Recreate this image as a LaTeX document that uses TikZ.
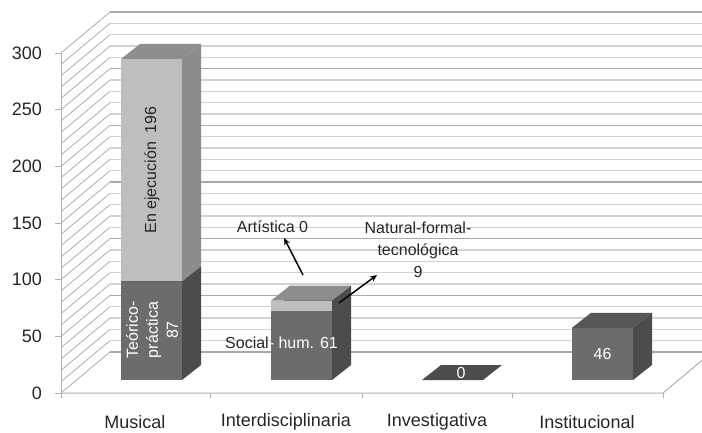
\documentclass[tikz,border=0pt]{standalone}
\usepackage{fontspec}
\setmainfont{Liberation Sans}
\usetikzlibrary{arrows.meta}

\definecolor{gridminor}{HTML}{D2D2D2}
\definecolor{gridmajor}{HTML}{A8A8A8}
\definecolor{wallline}{HTML}{B4B4B4}
\definecolor{axisline}{HTML}{B0B0B0}
\definecolor{darkfront}{HTML}{6C6C6C}
\definecolor{darkside}{HTML}{4C4C4C}
\definecolor{darktop}{HTML}{575757}
\definecolor{lightfront}{HTML}{BEBEBE}
\definecolor{lightside}{HTML}{8C8C8C}
\definecolor{lighttop}{HTML}{8E8E8E}
\definecolor{labeltext}{HTML}{262626}

% one block of a 3-D column: left x, bottom y, top y, front, side, top colours
\newcommand\barblock[6]{%
  \fill[#4] (#1,#2) -- (#1+61,#2) -- (#1+61,#3) -- (#1,#3) -- cycle;
  \fill[#5] (#1+61,#2) -- (#1+80,#2-15) -- (#1+80,#3-15) -- (#1+61,#3) -- cycle;
  \fill[#6] (#1,#3) -- (#1+61,#3) -- (#1+80,#3-15) -- (#1+19,#3-15) -- cycle;
}

\begin{document}
\begin{tikzpicture}[x=1pt,y=-1pt,
  minorline/.style={draw=gridminor, line width=1.1pt},
  majorline/.style={draw=gridmajor, line width=1.2pt},
  sideline/.style={draw=wallline, line width=0.9pt},
  axis/.style={draw=axisline, line width=1pt},
  ticklabel/.style={font=\fontsize{18}{20}\selectfont, text=labeltext},
  catlabel/.style={font=\fontsize{18}{20}\selectfont, text=labeltext},
  datalabel/.style={font=\fontsize{16}{20}\selectfont, text=labeltext, inner sep=0pt},
  pointer/.style={-{Stealth[length=7pt,width=6pt]}, line width=1.5pt, draw=black}
]
\useasboundingbox (0,0) rectangle (702,433);
\fill[white] (0,0) rectangle (702,433);
\clip (0,0) rectangle (702,433);

% back wall: minor then major gridlines
\foreach \v [evaluate=\v as \yb using 352-\v*1.1333] in {0,10,...,300}
  \draw[minorline] (110,\yb) -- (702,\yb);
\foreach \v [evaluate=\v as \yb using 352-\v*1.1333] in {0,50,...,300}
  \draw[majorline] (110,\yb) -- (702,\yb);

% side wall diagonals
\foreach \v [evaluate=\v as \yf using 393-\v*1.1333,
             evaluate=\v as \yb using 352-\v*1.1333] in {0,10,...,300}
  \draw[sideline] (61,\yf) -- (110,\yb);

% axes, floor edges and ticks
\draw[axis] (61,53) -- (61,398);
\draw[axis] (61,393) -- (663,393) -- (702,360.4);
\foreach \v [evaluate=\v as \yf using 393-\v*1.1333] in {0,50,...,300}
  \draw[axis] (55,\yf) -- (61,\yf);
\foreach \x in {210,362,512,663}
  \draw[axis] (\x,393) -- (\x,398);

% y-axis labels
\foreach \v [evaluate=\v as \yf using 393-\v*1.1333] in {0,50,...,300}
  \node[ticklabel, anchor=east, inner sep=0pt] (ylab\v) at (42,\yf) {\v};

% columns
\barblock{121}{380}{281.3}{darkfront}{darkside}{darktop}
\barblock{121}{281.3}{59}{lightfront}{lightside}{lighttop}
\barblock{271}{380}{310.8}{darkfront}{darkside}{darktop}
\barblock{271}{310.8}{300.6}{lightfront}{darkside}{lighttop}
\fill[darkside] (422,380) -- (483,380) -- (502,365) -- (441,365) -- cycle;
\barblock{572}{380}{327.8}{darkfront}{darkside}{darktop}

% data labels
\node[datalabel, rotate=90] (ejec) at (152,170) {En ejecución\ \ 196};
\node[datalabel, rotate=90, text=white, align=center,
      font=\fontsize{16}{20}\selectfont] (teor) at (152,330) {Teórico-\\práctica\\87};
\node[datalabel, anchor=west] (social) at (225,343) {Social\textcolor{white}{ - hum. 61}};
\node[datalabel] (artis) at (272.5,227) {Artística 0};
\node[datalabel, align=center, font=\fontsize{16}{22}\selectfont] (natur) at (418,250)
  {Natural-formal-\\tecnológica\\9};
\node[datalabel, text=white] (inves) at (461,372.5) {0};
\node[datalabel, text=white] (insti) at (602.5,354) {46};

% pointers to the thin segments
\coordinate (artTail) at (303,275);
\coordinate (artHead) at (284,238);
\coordinate (natTail) at (339,303);
\coordinate (natHead) at (377,275);
\draw[pointer] (artTail) -- (artHead);
\draw[pointer] (natTail) -- (natHead);

% category labels
\node[catlabel] (cMus) at (135,422) {Musical};
\node[catlabel] (cInt) at (286,422) {Interdisciplinaria};
\node[catlabel] (cInv) at (437,422) {Investigativa};
\node[catlabel] (cIns) at (587,422) {Institucional};
\end{tikzpicture}
\end{document}
